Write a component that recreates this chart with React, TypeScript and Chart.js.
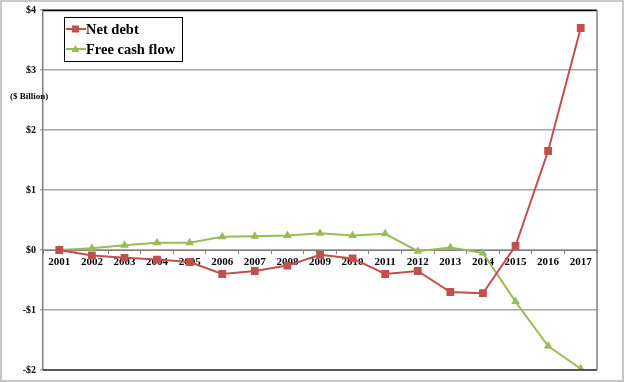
import React, { useEffect, useRef } from "react";
import { Chart, registerables } from "chart.js";

Chart.register(...registerables);

const years = ["2001","2002","2003","2004","2005","2006","2007","2008","2009","2010","2011","2012","2013","2014","2015","2016","2017"];
const netDebt = [0, -0.09, -0.13, -0.16, -0.2, -0.4, -0.35, -0.26, -0.08, -0.14, -0.4, -0.35, -0.7, -0.72, 0.07, 1.65, 3.7];
const freeCashFlow = [0, 0.03, 0.08, 0.12, 0.12, 0.22, 0.23, 0.24, 0.28, 0.24, 0.27, -0.02, 0.04, -0.05, -0.86, -1.6, -1.98];
const unitLabel = "($ Billion)";

const RED = "#C0504D";
const GREEN = "#9BBB59";
const FONT = "'Liberation Serif', 'Times New Roman', serif";

const extrasPlugin = {
  id: "extras",
  afterDraw(chart: any) {
    const ctx = chart.ctx;
    const area = chart.chartArea;
    ctx.save();
    ctx.lineWidth = 1.5;
    ctx.strokeStyle = "#000000";
    ctx.beginPath();
    ctx.moveTo(area.left, area.top + 0.5);
    ctx.lineTo(area.right, area.top + 0.5);
    ctx.stroke();
    ctx.strokeStyle = "#333333";
    ctx.beginPath();
    ctx.moveTo(area.left, area.bottom);
    ctx.lineTo(area.right, area.bottom);
    ctx.stroke();
    ctx.strokeStyle = "#808080";
    ctx.lineWidth = 1.5;
    ctx.beginPath();
    ctx.moveTo(area.right, area.top);
    ctx.lineTo(area.right, area.bottom);
    ctx.stroke();

    ctx.fillStyle = "#000";
    ctx.font = "bold 9px " + FONT;
    ctx.textAlign = "left";
    ctx.textBaseline = "middle";
    ctx.fillText(unitLabel, 10, 97);

    const lx = 64, ly = 17, lw = 118, lh = 44;
    ctx.fillStyle = "#fff";
    ctx.fillRect(lx, ly, lw, lh);
    ctx.strokeStyle = "#000";
    ctx.lineWidth = 1;
    ctx.strokeRect(lx + 0.5, ly + 0.5, lw, lh);
    const items = chart.data.datasets.map((d: any) => ({ label: d.label, color: d.borderColor, style: d.pointStyle }));
    items.forEach((it: any, i: number) => {
      const cy = 29 + i * 20;
      ctx.strokeStyle = it.color;
      ctx.lineWidth = 2;
      ctx.beginPath();
      ctx.moveTo(66, cy);
      ctx.lineTo(86, cy);
      ctx.stroke();
      ctx.fillStyle = it.color;
      if (it.style === "rect") {
        ctx.fillRect(72, cy - 3.5, 7, 7);
      } else {
        ctx.beginPath();
        ctx.moveTo(75.5, cy - 4);
        ctx.lineTo(79.5, cy + 3);
        ctx.lineTo(71.5, cy + 3);
        ctx.closePath();
        ctx.fill();
      }
      ctx.fillStyle = "#000";
      ctx.font = "bold 14.5px " + FONT;
      ctx.textAlign = "left";
      ctx.textBaseline = "middle";
      ctx.fillText(it.label, 86, cy + 1);
    });
    ctx.restore();
  },
};

export default function App() {
  const ref = useRef<HTMLCanvasElement | null>(null);
  useEffect(() => {
    document.body.style.margin = "0";
    if (!ref.current) return;
    const chart = new Chart(ref.current, {
      type: "line",
      data: {
        labels: years,
        datasets: [
          {
            label: "Net debt",
            data: netDebt,
            borderColor: RED,
            backgroundColor: RED,
            borderWidth: 2,
            pointStyle: "rect",
            pointRadius: 5.5,
            pointBorderWidth: 0,
            tension: 0,
          },
          {
            label: "Free cash flow",
            data: freeCashFlow,
            borderColor: GREEN,
            backgroundColor: GREEN,
            borderWidth: 2,
            pointStyle: "triangle",
            pointRadius: 5,
            pointBorderWidth: 0,
            tension: 0,
          },
        ],
      },
      options: {
        animation: false,
        responsive: false,
        maintainAspectRatio: false,
        layout: { padding: { left: 0, right: 27, top: 10, bottom: 12 } },
        plugins: { legend: { display: false }, tooltip: { enabled: false } },
        scales: {
          x: {
            position: { y: 0 } as any,
            offset: true,
            grid: { display: true, drawOnChartArea: false, drawTicks: true, tickLength: 3, offset: true, color: "#808080" },
            border: { display: true, color: "#808080", width: 1 },
            ticks: {
              color: "#000",
              font: { family: FONT, size: 11, weight: "bold" },
              maxRotation: 0,
              autoSkip: false,
              padding: 3,
            },
          },
          y: {
            min: -2,
            max: 4,
            afterFit: (s: any) => { s.width = 43; },
            ticks: {
              stepSize: 1,
              color: "#000",
              font: { family: FONT, size: 10, weight: "bold" },
              padding: 4,
              callback: (v: any) => (v < 0 ? "-$" + -v : "$" + v),
            },
            grid: {
              color: "#A6A6A6",
              lineWidth: 1.5,
              tickLength: 3,
            },
            border: { display: true, color: "#808080", width: 1.5 },
          },
        },
      },
      plugins: [extrasPlugin],
    });
    return () => chart.destroy();
  }, []);
  return (
    <div style={{ position: "fixed", left: 0, top: 0, width: 624, height: 382, background: "#fff" }}>
      <canvas ref={ref} width={624} height={382} style={{ display: "block" }} />
      <div style={{ position: "absolute", left: 0, top: 0, width: 624, height: 382, boxSizing: "border-box", border: "2px solid #C8C8C8", pointerEvents: "none" }} />
    </div>
  );
}
